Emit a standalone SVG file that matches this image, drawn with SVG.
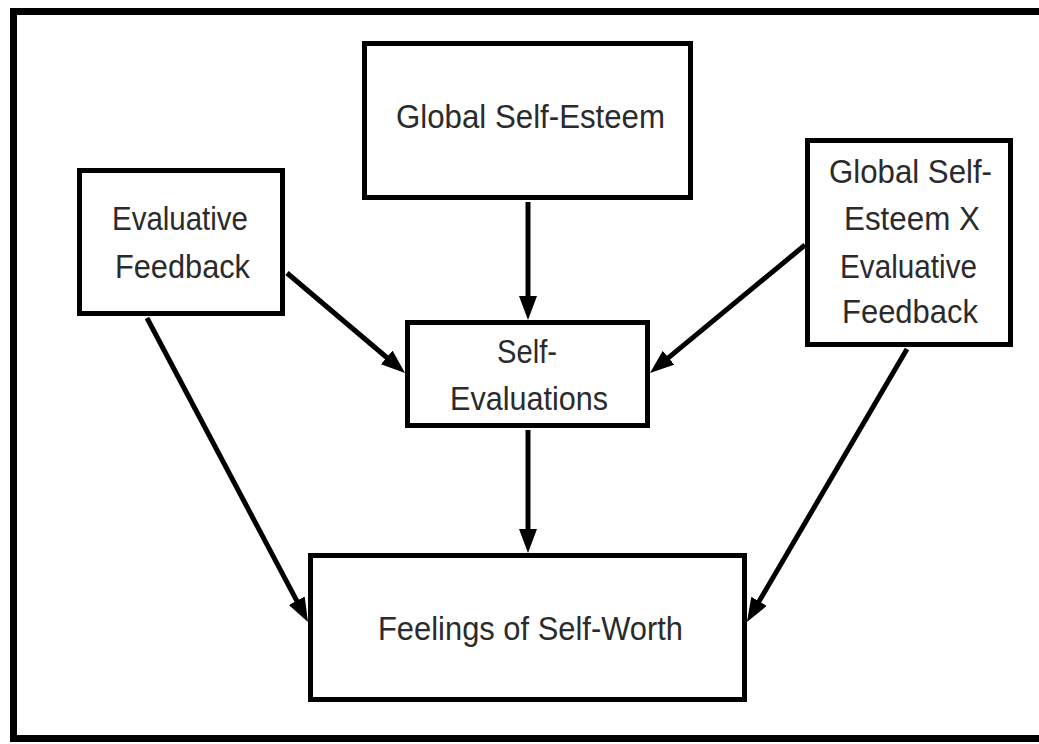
<svg xmlns="http://www.w3.org/2000/svg" width="1039" height="744" viewBox="0 0 1039 744">
<style>
.box{fill:#fff;stroke:#000;stroke-width:5}
.lbl{font-family:"Liberation Sans",Arial,sans-serif;font-size:33px;fill:#2b2b2b;text-anchor:middle}
.edge{stroke:#000;stroke-width:5;fill:none;marker-end:url(#ah)}
</style>
<defs>
<marker id="ah" markerUnits="userSpaceOnUse" markerWidth="26" markerHeight="20" refX="14" refY="9" orient="auto" viewBox="0 0 26 20">
<path d="M0,0 L24,9 L0,18 z" fill="#000"/>
</marker>
</defs>
<rect x="0" y="0" width="1039" height="744" fill="#fff"/>
<rect id="frame" x="13.5" y="11.5" width="1040" height="727" fill="none" stroke="#000" stroke-width="7"/>
<g id="connectors">
<line class="edge" x1="528" y1="202" x2="528" y2="310"/>
<line class="edge" x1="528" y1="430" x2="528" y2="543"/>
<line class="edge" x1="287" y1="273" x2="397.4" y2="366.5"/>
<line class="edge" x1="147" y1="318" x2="303.3" y2="613.1"/>
<line class="edge" x1="805" y1="245" x2="657.7" y2="366.6"/>
<line class="edge" x1="907" y1="349" x2="752" y2="613.4"/>
</g>
<g id="global-self-esteem">
<rect class="box" x="364.5" y="43.5" width="326" height="154"/>
<text class="lbl" x="530.5" y="128" textLength="269" lengthAdjust="spacingAndGlyphs">Global Self-Esteem</text>
</g>
<g id="evaluative-feedback">
<rect class="box" x="79.5" y="170.5" width="203" height="143"/>
<text class="lbl" x="180" y="230" textLength="136" lengthAdjust="spacingAndGlyphs">Evaluative</text>
<text class="lbl" x="182.5" y="278" textLength="135" lengthAdjust="spacingAndGlyphs">Feedback</text>
</g>
<g id="interaction">
<rect class="box" x="807.5" y="140.5" width="203" height="204"/>
<text class="lbl" x="910.5" y="183" textLength="163" lengthAdjust="spacingAndGlyphs">Global Self-</text>
<text class="lbl" x="912" y="230" textLength="136" lengthAdjust="spacingAndGlyphs">Esteem X</text>
<text class="lbl" x="908.5" y="278" textLength="137" lengthAdjust="spacingAndGlyphs">Evaluative</text>
<text class="lbl" x="910" y="323" textLength="136" lengthAdjust="spacingAndGlyphs">Feedback</text>
</g>
<g id="self-evaluations">
<rect class="box" x="407.5" y="322.5" width="240" height="103"/>
<text class="lbl" x="527" y="363" textLength="60" lengthAdjust="spacingAndGlyphs">Self-</text>
<text class="lbl" x="529" y="410" textLength="158" lengthAdjust="spacingAndGlyphs">Evaluations</text>
</g>
<g id="feelings-of-self-worth">
<rect class="box" x="310.5" y="555.5" width="434" height="144"/>
<text class="lbl" x="530.5" y="640" textLength="305" lengthAdjust="spacingAndGlyphs">Feelings of Self-Worth</text>
</g>
</svg>
